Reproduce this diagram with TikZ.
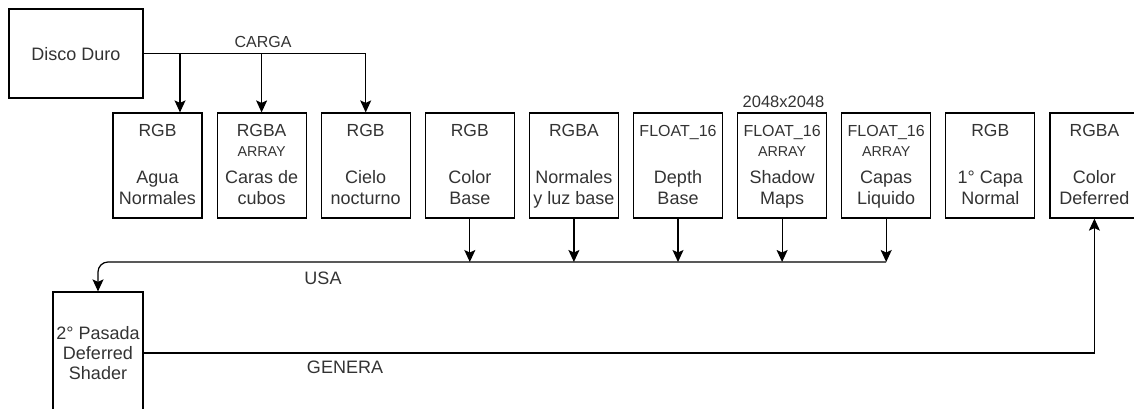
\documentclass[tikz,border=0pt]{standalone}
\usepackage{fontspec}
\setmainfont{Liberation Sans}
\usetikzlibrary{arrows.meta}
\definecolor{txt}{HTML}{333333}
\tikzset{
  boxst/.style={draw=black, line width=1.2pt, inner sep=0pt, minimum width=89pt, minimum height=105pt},
  fmtst/.style={text=txt, inner sep=0pt, anchor=base, font=\fontsize{17.5}{20}\selectfont},
  subst/.style={text=txt, inner sep=0pt, anchor=base, font=\fontsize{14.3}{16}\selectfont},
  mainst/.style={text=txt, inner sep=0pt, anchor=base, font=\fontsize{18}{21}\selectfont},
  labst/.style={text=txt, inner sep=0pt, anchor=base, font=\fontsize{18}{21}\selectfont},
  conn/.style={draw=black, line width=1.2pt},
  arr/.style={conn, arrows={-Stealth[length=12pt, width=11pt, inset=2.5pt]}}
}
\newcommand\tbx[6]{%
  \node[boxst] (#1) at (#2,165.5) {};
  \node[fmtst] (#1f) at (#2,136.5) {#3};
  \if\relax\detokenize{#4}\relax\else
    \node[subst] (#1s) at (#2,156) {#4};
  \fi
  \node[mainst] (#1a) at (#2,183) {#5};
  \node[mainst] (#1b) at (#2,204) {#6};
}
\begin{document}
\begin{tikzpicture}[x=1pt, y=-1pt]
\useasboundingbox (0,0) rectangle (1134,409);
% Disco Duro
\node[draw=black, line width=1.2pt, inner sep=0pt, minimum width=134pt, minimum height=89pt] (dd) at (76,53.5) {};
\node[labst] (ddt) at (76,60.5) {Disco Duro};
% boxes
\tbx{b1}{157.5}{RGB}{}{Agua}{Normales}
\tbx{b2}{261.6}{RGBA}{ARRAY}{Caras de}{cubos}
\tbx{b3}{365.7}{RGB}{}{Cielo}{nocturno}
\tbx{b4}{469.8}{RGB}{}{Color}{Base}
\tbx{b5}{573.9}{RGBA}{}{Normales}{y luz base}
\tbx{b6}{678.0}{{\fontsize{16}{18}\selectfont FLOAT\_16}}{}{Depth}{Base}
\tbx{b7}{782.1}{{\fontsize{16}{18}\selectfont FLOAT\_16}}{ARRAY}{Shadow}{Maps}
\tbx{b8}{886.2}{{\fontsize{16}{18}\selectfont FLOAT\_16}}{ARRAY}{Capas}{Liquido}
\tbx{b9}{990.3}{RGB}{}{1° Capa}{Normal}
\tbx{b10}{1094.4}{RGBA}{}{Color}{Deferred}
\node[text=txt, inner sep=0pt, anchor=base, font=\fontsize{16.5}{19}\selectfont] (res) at (783.5,107) {2048x2048};
% Shader
\node[draw=black, line width=1.2pt, inner sep=0pt, minimum width=90pt, minimum height=122pt] (sh) at (98,353) {};
\node[labst] (sh1) at (98,339.5) {2° Pasada};
\node[labst] (sh2) at (98,359.5) {Deferred};
\node[labst] (sh3) at (98,379.5) {Shader};
% CARGA
\coordinate (c1) at (180,53.5);
\coordinate (c2) at (b2.north |- dd.east);
\coordinate (c3) at (b3.north |- dd.east);
\draw[conn] (dd.east) -- (c3);
\draw[arr] (c1) -- (c1 |- b1.north);
\draw[arr] (c2) -- (b2.north);
\draw[arr] (c3) -- (b3.north);
\node[text=txt, inner sep=0pt, anchor=base, font=\fontsize{16}{19}\selectfont] (carga) at (263,47.8) {CARGA};
% USA
\coordinate (u4) at (469.8,262);
\coordinate (u5) at (573.9,262);
\coordinate (u6) at (678.0,262);
\coordinate (u7) at (782.1,262);
\coordinate (u8) at (886.2,262);
\draw[arr] (b4.south) -- (u4);
\draw[arr] (b5.south) -- (u5);
\draw[arr] (b6.south) -- (u6);
\draw[arr] (b7.south) -- (u7);
\draw[arr] (b8.south) -- (u8);
\draw[arr, rounded corners=10pt] (u8) -| (sh.north);
\node[labst] (usa) at (323,284.5) {USA};
% GENERA
\draw[arr] (sh.east) -| (b10.south);
\node[labst] (gen) at (345,373.5) {GENERA};
\end{tikzpicture}
\end{document}
